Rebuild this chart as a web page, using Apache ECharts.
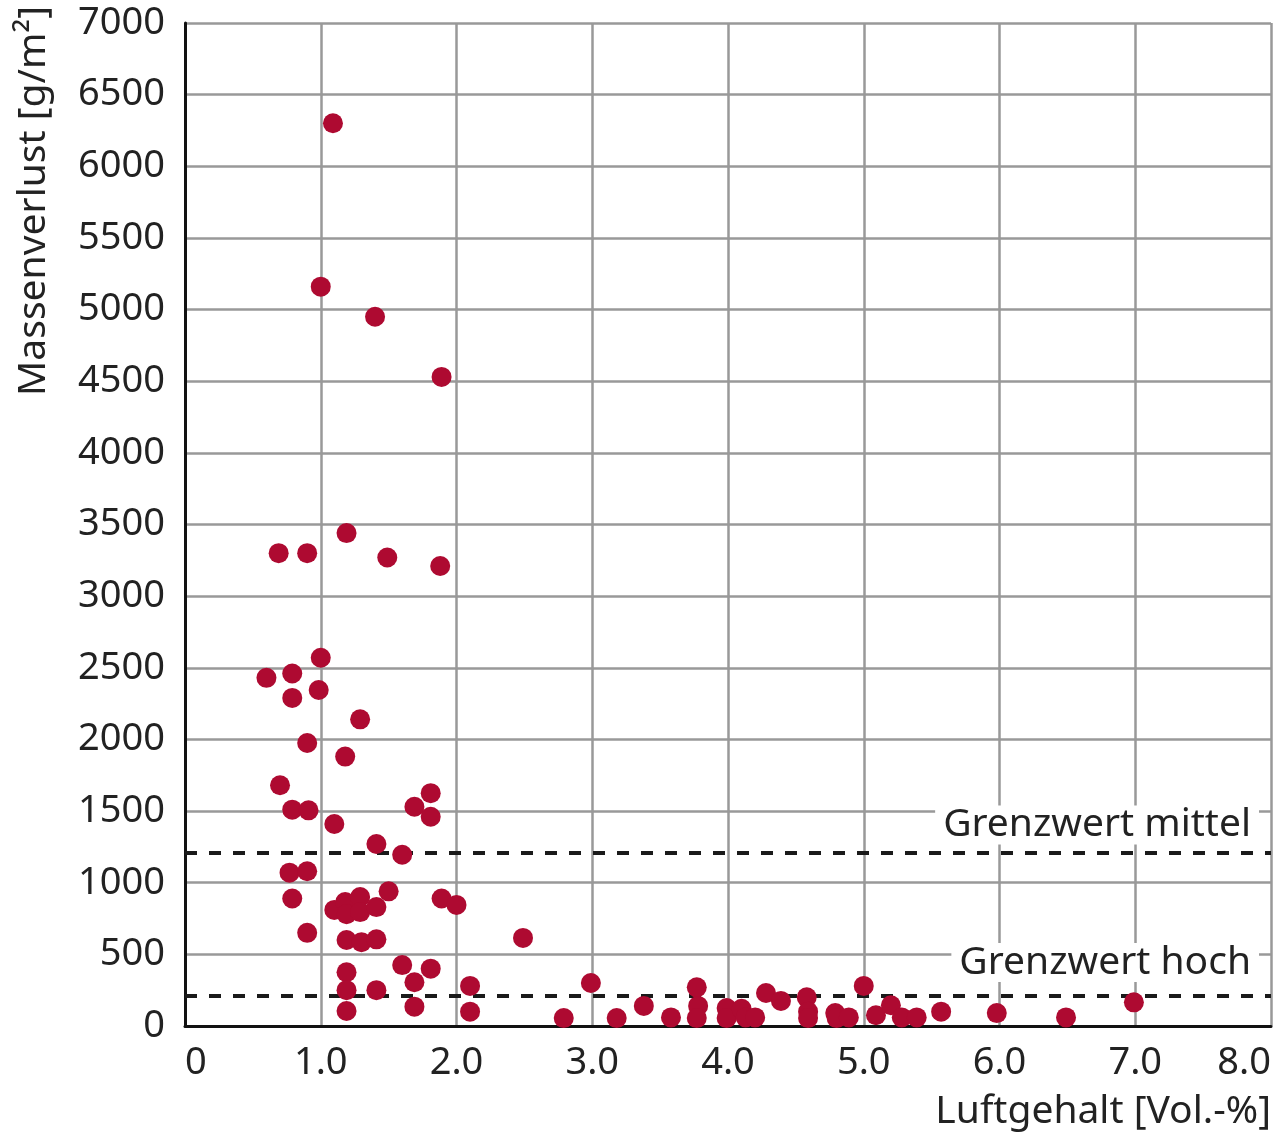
<!DOCTYPE html>
<html>
<head>
<meta charset="UTF-8">
<script src="https://cdn.jsdelivr.net/npm/echarts@6/dist/echarts.min.js"></script>
<style>
html, body { margin: 0; padding: 0; background: #fff; }
#chart { width: 1284px; height: 1137px; }
</style>
</head>
<body>
<div id="chart"></div>
<script>
// Luftgehalt [Vol.-%] und Massenverlust [g/m2], Punkt für Punkt aus dem Bild gelesen
var luftgehalt = [
	1.09, 1.00, 1.40, 1.89, 0.69, 0.90, 1.19, 1.49, 1.88, 1.00,
	0.60, 0.79, 0.79, 0.985, 1.29, 0.90, 1.18, 0.70, 0.79, 0.91,
	1.10, 1.41, 1.60, 1.69, 1.81, 1.81, 0.77, 0.90, 0.79, 0.90,
	1.10, 1.18, 1.19, 1.29, 1.29, 1.41, 1.50, 1.89, 2.00, 1.19,
	1.30, 1.41, 1.60, 1.81, 1.69, 1.19, 1.19, 1.19, 1.41, 1.69,
	2.10, 2.10, 2.49, 2.79, 2.99, 3.18, 3.38, 3.58, 3.77, 3.78,
	3.77, 3.99, 3.99, 4.10, 4.13, 4.20, 4.28, 4.39, 4.58, 4.59,
	4.59, 4.79, 4.80, 4.89, 5.00, 5.09, 5.20, 5.28, 5.39, 5.57,
	5.98, 6.49, 6.99
];
var massenverlust = [
	6300, 5160, 4950, 4530, 3300, 3300, 3440, 3270, 3210, 2570,
	2430, 2460, 2290, 2345, 2140, 1975, 1880, 1680, 1510, 1505,
	1410, 1270, 1195, 1530, 1625, 1460, 1070, 1080, 890, 650,
	810, 865, 780, 900, 795, 830, 940, 890, 845, 600,
	585, 605, 425, 400, 305, 375, 250, 105, 250, 135,
	280, 100, 615, 55, 300, 55, 140, 60, 270, 140,
	55, 125, 55, 120, 60, 60, 230, 175, 200, 100,
	55, 90, 55, 60, 280, 75, 145, 60, 60, 100,
	90, 60, 165
];
var grenzwerte = [1210, 210];
var grenzwertNamen = ['Grenzwert mittel', 'Grenzwert hoch'];

var punkte = luftgehalt.map(function (x, i) { return [x, massenverlust[i]]; });

var font = 'Noto Sans';
var myChart = echarts.init(document.getElementById('chart'));

var option = {
	animation: false,
	grid: { left: 185, right: 13, top: 23, bottom: 111, containLabel: false },
	xAxis: {
		type: 'value', min: 0, max: 8, interval: 1,
		axisLine: { show: true, lineStyle: { color: '#111', width: 3 } },
		axisTick: { show: false },
		splitLine: { show: true, lineStyle: { color: '#999', width: 2.5 } },
		axisLabel: {
			fontFamily: font, fontSize: 38, color: '#222', margin: 18,
			alignMinLabel: 'left', alignMaxLabel: 'right',
			formatter: function (v) { return v === 0 ? '0' : v.toFixed(1); }
		}
	},
	yAxis: {
		type: 'value', min: 0, max: 7000, interval: 500,
		axisLine: { show: true, lineStyle: { color: '#111', width: 3 } },
		axisTick: { show: false },
		splitLine: { show: true, lineStyle: { color: '#999', width: 2.5 } },
		axisLabel: {
			fontFamily: font, fontSize: 38, color: '#222', margin: 20,
			formatter: function (v) { return String(v); }
		}
	},
	graphic: [
		{
			type: 'text', x: 34, y: 396, rotation: Math.PI / 2,
			style: { text: 'Massenverlust [g/m²]', font: '39px "Noto Sans"', fill: '#222', align: 'left', verticalAlign: 'middle' }
		},
		{
			type: 'text', x: 1271, y: 1112,
			style: { text: 'Luftgehalt [Vol.-%]', font: '39px "Noto Sans"', fill: '#222', align: 'right', verticalAlign: 'middle' }
		}
	],
	series: [{
		type: 'scatter',
		data: punkte,
		symbolSize: 20,
		itemStyle: { color: '#ae0a31', opacity: 1 },
		z: 3,
		markLine: {
			silent: true,
			symbol: 'none',
			lineStyle: { color: '#1a1a1a', width: 4, type: [12, 12] },
			z: 2,
			data: grenzwerte.map(function (g, i) {
				return {
					yAxis: g,
					label: {
						show: true,
						formatter: grenzwertNamen[i],
						position: 'insideEndTop',
						distance: [12, i === 0 ? 8 : 14],
						fontFamily: font, fontSize: 39, color: '#222',
						backgroundColor: '#fff',
						padding: [0, 8, 0, 8]
					}
				};
			})
		}
	}]
};

myChart.setOption(option);
</script>
</body>
</html>
